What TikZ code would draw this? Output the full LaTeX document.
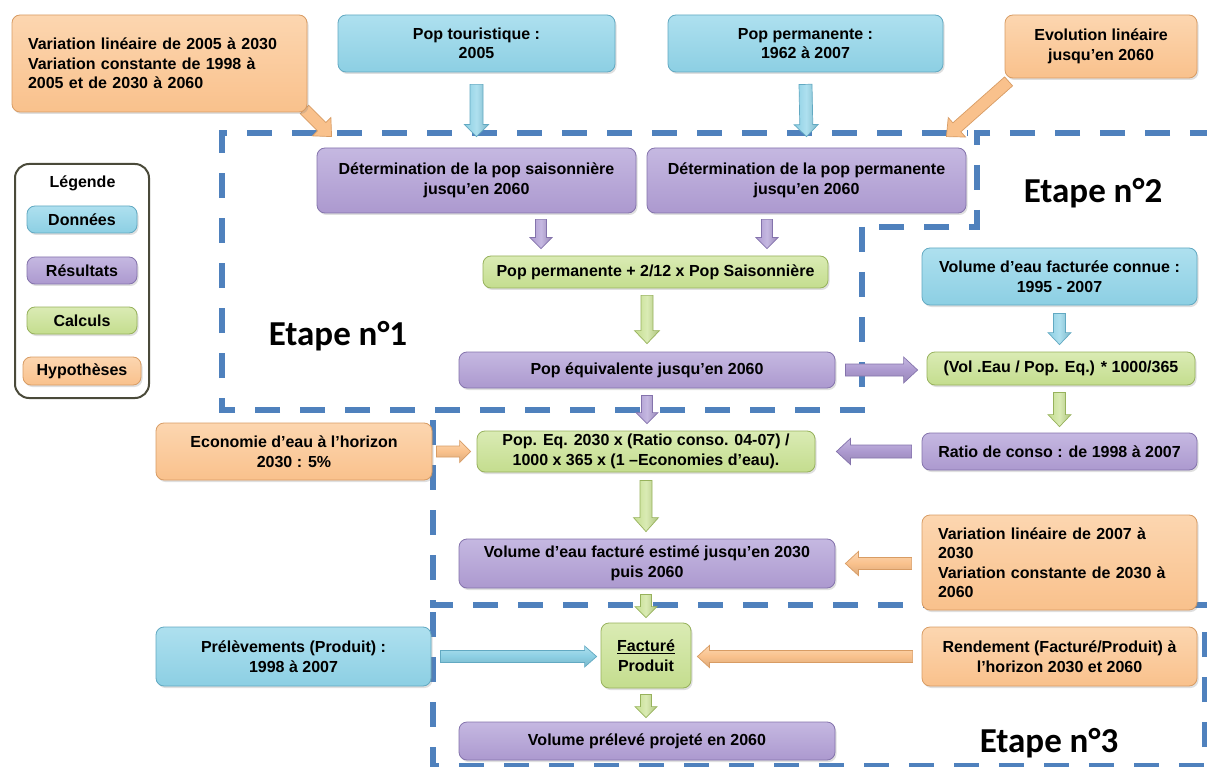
\documentclass[tikz,border=0pt]{standalone}
\usepackage{fontspec}
\setmainfont{Liberation Sans}
\newfontfamily\etapefont{Carlito}
\usetikzlibrary{calc,shadows}
\pgfdeclarelayer{bg}
\pgfsetlayers{bg,main}
\definecolor{blueB}{HTML}{8CCFE3}
\definecolor{blueL}{HTML}{AEE0EF}
\definecolor{blueD}{HTML}{62A9C2}
\definecolor{purB}{HTML}{AC99CF}
\definecolor{purL}{HTML}{C5B8E1}
\definecolor{purD}{HTML}{8473AC}
\definecolor{greB}{HTML}{C4DD8E}
\definecolor{greL}{HTML}{DAEBB4}
\definecolor{greD}{HTML}{97B25C}
\definecolor{oraB}{HTML}{F9C18C}
\definecolor{oraL}{HTML}{FCD6B0}
\definecolor{oraD}{HTML}{D89C64}
\definecolor{etapeC}{HTML}{4F81BD}
\definecolor{legD}{HTML}{4A4A3A}
\tikzset{
  box/.style={rounded corners=8pt, line width=0.8pt, align=center, inner sep=2pt, text=black,
    drop shadow={shadow xshift=1.5pt, shadow yshift=-2pt, opacity=0.25}},
  bx/.style={box, draw=#1D, top color=#1L, bottom color=#1B},
  arv/.style={draw=#1D, line width=0.7pt, left color=#1B, right color=#1B!88!black, middle color=#1L},
  arh/.style={draw=#1D, line width=0.7pt, top color=#1L, bottom color=#1B!88!black, middle color=#1B},
  ard/.style={draw=#1D, line width=0.7pt, fill=#1B},
  dashline/.style={draw=etapeC, line width=6.5pt, dash pattern=on 25pt off 20pt},
  etape/.style={font=\etapefont\bfseries\fontsize{35}{40}\selectfont, text=black, inner sep=0pt},
}
% block arrow: style, start, end, half shaft, half head, head length
\newcommand\barr[6]{%
  \coordinate (baS) at #2;
  \coordinate (baE) at #3;
  \coordinate (baM) at ($(baE)!#6pt!(baS)$);
  \draw[#1] ($(baS)!#4pt!90:(baE)$) -- ($(baM)!#4pt!90:(baE)$) -- ($(baM)!#5pt!90:(baE)$)
    -- (baE) -- ($(baM)!#5pt!-90:(baE)$) -- ($(baM)!#4pt!-90:(baE)$) -- ($(baS)!#4pt!-90:(baE)$) -- cycle;
}
\begin{document}
\begin{tikzpicture}[x=1pt,y=-1pt, every node/.style={font=\bfseries\fontsize{16}{19.5}\selectfont}]
\useasboundingbox (0,0) rectangle (1207,767);

% ---- nodes ----
\node[bx=ora, minimum width=295pt, minimum height=97pt, text width=263pt, align=left] (hyp1) at (159.5,63.5)
  {Variation linéaire de 2005 à 2030\\Variation constante de 1998 à\\2005 et de 2030 à 2060};
\node[bx=blue, minimum width=277pt, minimum height=57pt] (popt) at (476.5,43.5) {Pop touristique :\\2005};
\node[bx=blue, minimum width=275pt, minimum height=57pt] (popp) at (805.5,43.5) {Pop permanente :\\1962 à 2007};
\node[bx=ora, minimum width=192pt, minimum height=63pt] (evol) at (1101,46.5) {Evolution linéaire\\jusqu'en 2060};
\node[bx=pur, minimum width=319pt, minimum height=65pt] (dets) at (476.5,180.5) {Détermination de la pop saisonnière\\jusqu'en 2060};
\node[bx=pur, minimum width=319pt, minimum height=65pt] (detp) at (806.5,180.5) {Détermination de la pop permanente\\jusqu'en 2060};
\node[bx=gre, minimum width=345pt, minimum height=32pt] (calc1) at (655.5,272) {Pop permanente + 2/12 x Pop Saisonnière};
\node[bx=pur, minimum width=376pt, minimum height=36pt] (popeq) at (647,370) {Pop équivalente jusqu'en 2060};
\node[bx=blue, minimum width=275pt, minimum height=57pt] (volc) at (1059.5,276.5) {Volume d’eau facturée connue :\\1995 - 2007};
\node[bx=gre, minimum width=268pt, minimum height=33pt] (calc2) at (1061,368.5) {(Vol .Eau / Pop. Eq.) * 1000/365};
\node[bx=pur, minimum width=275pt, minimum height=37pt] (ratio) at (1059.5,451.5) {Ratio de conso : de 1998 à 2007};
\node[bx=ora, minimum width=276pt, minimum height=57pt] (eco) at (294,451.5) {Economie d’eau à l’horizon\\2030 : 5\%};
\node[bx=gre, minimum width=338pt, minimum height=41pt] (calc3) at (646,451.5) {Pop. Eq. 2030 x (Ratio conso. 04-07) /\\1000 x 365 x (1 –Economies d'eau).};
\node[bx=pur, minimum width=376pt, minimum height=49pt] (volest) at (647,563.5) {Volume d’eau facturé estimé jusqu'en 2030\\puis 2060};
\node[bx=ora, minimum width=275pt, minimum height=95pt, text width=243pt, align=left] (var2) at (1059.5,562.5)
  {Variation linéaire de 2007 à\\2030\\Variation constante de 2030 à\\2060};
\node[bx=blue, minimum width=275pt, minimum height=59pt] (prel) at (293.5,656.5) {Prélèvements (Produit) :\\1998 à 2007};
\node[bx=gre, minimum width=90pt, minimum height=65pt] (fact) at (646,655.5) {\underline{Facturé}\\Produit};
\node[bx=ora, minimum width=275pt, minimum height=59pt] (rend) at (1059.5,656.5) {Rendement (Facturé/Produit) à\\l'horizon 2030 et 2060};
\node[bx=pur, minimum width=376pt, minimum height=38pt] (volp) at (647,741) {Volume prélevé projeté en 2060};

% ---- legend ----
\node[draw=legD, fill=white, line width=2pt, rounded corners=14pt, minimum width=134pt, minimum height=234pt] (leg) at (82,281) {};
\node (legt) at (82.5,183) {Légende};
\node[bx=blue, minimum width=110pt, minimum height=27pt] (lg1) at (82,219.5) {Données};
\node[bx=pur, minimum width=110pt, minimum height=27pt] (lg2) at (82,270.5) {Résultats};
\node[bx=gre, minimum width=110pt, minimum height=27pt] (lg3) at (82,320.5) {Calculs};
\node[bx=ora, minimum width=118pt, minimum height=28pt] (lg4) at (82,371) {Hypothèses};

% ---- etapes ----
\node[etape] (et1) at (338,336) {Etape n°1};
\node[etape] (et2) at (1093,193) {Etape n°2};
\node[etape] (et3) at (1049,743) {Etape n°3};

\begin{pgfonlayer}{bg}
\fill[white] (0,0) rectangle (1207,767);
% dashed step outlines
\draw[dashline] (862,227) -- (862,410) -- (222,410) -- (222,133) -- (968,133);
\draw[dashline] (1215,133) -- (977,133) -- (977,227) -- (868,227);
\draw[dashline] (433,420) -- (433,605) -- (1215,605);
\draw[dashline] (433,612) -- (433,766) -- (1205,766) -- (1205,612);

% block arrows
\barr{arv=blue}{($(popt.south)+(0,12)$)}{($(dets.north)+(0,-11)$)}{6.5}{12}{12}
\barr{arv=blue}{($(popp.south)+(0,12)$)}{($(detp.north)+(0,-11)$)}{6.5}{12}{12}
\barr{ard=ora}{($(hyp1.south east)+(-3,-3)$)}{($(dets.north west)+(15,-11)$)}{6}{13}{14}
\barr{ard=ora}{($(evol.south west)+(4,3)$)}{($(detp.north east)+(-20,-11)$)}{6}{13}{14}
\barr{arv=pur}{($(541,0 |- dets.south)+(0,6)$)}{($(541,0 |- calc1.north)+(0,-7)$)}{5.5}{11}{11}
\barr{arv=pur}{($(767,0 |- detp.south)+(0,6)$)}{($(767,0 |- calc1.north)+(0,-7)$)}{5.5}{11}{11}
\barr{arv=gre}{($(popeq.north |- calc1.south)+(0,7)$)}{($(popeq.north)+(0,-8)$)}{6}{12.5}{13}
\barr{arv=pur}{($(popeq.south)+(0,7)$)}{($(popeq.south |- calc3.north)+(0,-7)$)}{5.5}{11}{11}
\barr{arh=pur}{($(popeq.east)+(10,0)$)}{($(calc2.west |- popeq.east)+(-9,0)$)}{6}{13}{14}
\barr{arv=blue}{($(volc.south)+(0,8)$)}{($(volc.south |- calc2.north)+(0,-7)$)}{6}{11.5}{12}
\barr{arv=gre}{($(ratio.north |- calc2.south)+(0,7)$)}{($(ratio.north)+(0,-6)$)}{6}{11.5}{12}
\barr{arh=pur}{($(ratio.west)+(-10,0)$)}{($(calc3.east |- ratio.west)+(21,0)$)}{6.5}{13}{14}
\barr{arh=ora}{($(eco.east)+(4,0)$)}{($(calc3.west |- eco.east)+(-6,0)$)}{5.5}{11}{11}
\barr{arv=gre}{($(calc3.south)+(0,8)$)}{($(calc3.south |- volest.north)+(0,-7)$)}{6}{12.5}{14}
\barr{arh=ora}{($(var2.west |- volest.east)+(-10,0)$)}{($(volest.east)+(10,0)$)}{6}{12}{13}
\barr{arv=gre}{($(fact.north |- volest.south)+(0,6)$)}{($(fact.north)+(0,-5)$)}{5.5}{11}{11}
\barr{arh=blue}{($(prel.east)+(9,0)$)}{($(fact.west |- prel.east)+(-4,0)$)}{6}{10.5}{12}
\barr{arh=ora}{($(rend.west)+(-9,0)$)}{($(fact.east |- rend.west)+(6,0)$)}{6}{11}{12}
\barr{arv=gre}{($(fact.south)+(0,6)$)}{($(fact.south |- volp.north)+(0,-4)$)}{5.5}{11}{11}
\end{pgfonlayer}
\end{tikzpicture}
\end{document}
